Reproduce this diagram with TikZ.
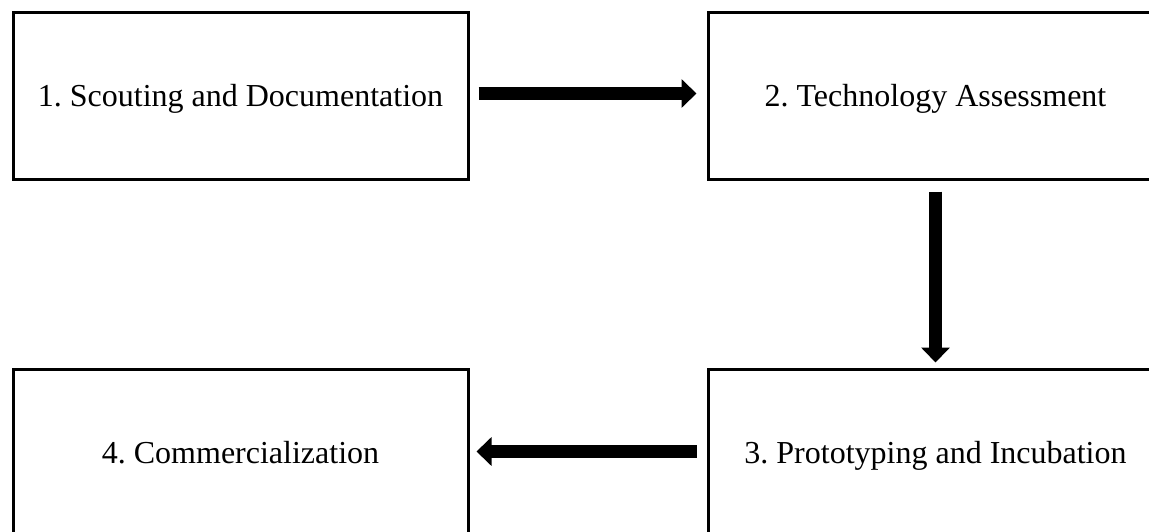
\documentclass[tikz,border=0pt]{standalone}
\usepackage{fontspec}
\setmainfont{Liberation Serif}
\usetikzlibrary{arrows.meta}
\tikzset{
  stagebox/.style={draw,line width=3pt,minimum width=455pt,minimum height=167pt,
    inner sep=0pt,text height=21pt,text depth=0pt,font=\fontsize{32}{38}\selectfont},
  flowarrow/.style={line width=13pt,-{Triangle[length=15pt,width=28pt]}}
}
\begin{document}
\frenchspacing
\begin{tikzpicture}[x=1pt,y=-1pt]
  \useasboundingbox (0,0) rectangle (1149,532);
  \node[stagebox] (scout) at (240.5,96.5) {1. Scouting and Documentation};
  \node[stagebox] (assess) at (935.5,96.5) {2. Technology Assessment};
  \node[stagebox] (proto) at (935.5,452.5) {3. Prototyping and Incubation};
  \node[stagebox] (comm) at (240.5,452.5) {4. Commercialization};
  \draw[flowarrow,shorten <=9pt,shorten >=10pt] ([yshift=3pt]scout.east) -- ([yshift=3pt]assess.west);
  \draw[flowarrow,shorten <=10pt,shorten >=5pt] (assess.south) -- (proto.north);
  \draw[flowarrow,shorten <=10pt,shorten >=7pt] ([yshift=1pt]proto.west) -- ([yshift=1pt]comm.east);
\end{tikzpicture}
\end{document}
